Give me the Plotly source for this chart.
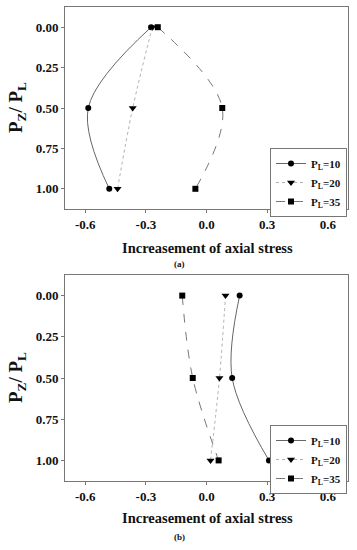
import plotly.graph_objects as go

y_levels = [0.0, 0.5, 1.0]
series_names = ["P<sub>L</sub>=10", "P<sub>L</sub>=20", "P<sub>L</sub>=35"]

# panel (a)
a_pl10 = [-0.274, -0.585, -0.481]
a_pl20 = [-0.268, -0.365, -0.440]
a_pl35 = [-0.241, 0.078, -0.055]

# panel (b)
b_pl10 = [0.164, 0.127, 0.309]
b_pl20 = [0.094, 0.064, 0.020]
b_pl35 = [-0.120, -0.068, 0.060]

x_ticks = [-0.6, -0.3, 0.0, 0.3, 0.6]
x_tick_labels = ["-0.6", "-0.3", "0.0", "0.3", "0.6"]
y_ticks = [0.0, 0.25, 0.5, 0.75, 1.0]
y_tick_labels = ["0.00", "0.25", "0.50", "0.75", "1.00"]

FONT = "Liberation Serif"
W, H = 357, 550

styles = [
    dict(line=dict(color="#666666", width=1, dash="solid"), marker=dict(symbol="circle", size=6, color="black")),
    dict(line=dict(color="#b0b0b0", width=1, dash="dot"), marker=dict(symbol="triangle-down", size=7, color="black")),
    dict(line=dict(color="#777777", width=1, dash="dash"), marker=dict(symbol="square", size=6, color="black")),
]

fig = go.Figure()

panels = [
    ([a_pl10, a_pl20, a_pl35], "x", "y", "legend"),
    ([b_pl10, b_pl20, b_pl35], "x2", "y2", "legend2"),
]
for data, xa, ya, lg in panels:
    for vals, name, st in zip(data, series_names, styles):
        fig.add_trace(go.Scatter(
            x=vals, y=y_levels, mode="lines+markers", name="<b>" + name + "</b>",
            line=dict(shape="spline", **st["line"]), marker=st["marker"],
            xaxis=xa, yaxis=ya, legend=lg,
        ))

xdom = [65 / W, 348 / W]
top_dom = [1 - 209 / H, 1 - 7 / H]
bot_dom = [1 - 481 / H, 1 - 275 / H]

bx = ["<b>" + t + "</b>" for t in x_tick_labels]
by = ["<b>" + t + "</b>" for t in y_tick_labels]

axis_common = dict(
    showline=True, mirror=True, linecolor="#777777", linewidth=1,
    ticks="outside", ticklen=3, tickcolor="#777777",
    showgrid=False, zeroline=False, automargin=False,
    tickfont=dict(family=FONT, size=13, color="#111111"),
)

legend_common = dict(
    xanchor="right", yanchor="top",
    bordercolor="#777777", borderwidth=1, bgcolor="white",
    font=dict(family=FONT, size=11, color="#111111"),
    tracegroupgap=0, itemwidth=30,
)

fig.update_layout(
    width=W, height=H,
    margin=dict(l=0, r=0, t=0, b=0, autoexpand=False),
    paper_bgcolor="white", plot_bgcolor="white",
    showlegend=True,
    xaxis=dict(domain=xdom, anchor="y", range=[-0.7, 0.7], tickvals=x_ticks, ticktext=bx, **axis_common),
    yaxis=dict(domain=top_dom, anchor="x", range=[1.125, -0.125], tickvals=y_ticks, ticktext=by, **axis_common),
    xaxis2=dict(domain=xdom, anchor="y2", range=[-0.7, 0.7], tickvals=x_ticks, ticktext=bx, **axis_common),
    yaxis2=dict(domain=bot_dom, anchor="x2", range=[1.125, -0.125], tickvals=y_ticks, ticktext=by, **axis_common),
    legend=dict(x=347 / W, y=1 - 148 / H, **legend_common),
    legend2=dict(x=347 / W, y=1 - 425 / H, **legend_common),
)

title_font = dict(family=FONT, size=14.5, color="#111111")
ytitle_font = dict(family=FONT, size=19, color="#111111")
small_font = dict(family=FONT, size=9, color="#111111")

annotations = [
    dict(text="<b>Increasement of axial stress</b>", x=207 / W, y=1 - 248 / H, font=title_font),
    dict(text="<b>(a)</b>", x=179 / W, y=1 - 264 / H, font=small_font),
    dict(text="<b>Increasement of axial stress</b>", x=207 / W, y=1 - 518 / H, font=title_font),
    dict(text="<b>(b)</b>", x=179 / W, y=1 - 537 / H, font=small_font),
    dict(text="<b>P<sub>Z</sub>/ P<sub>L</sub></b>", x=17 / W, y=1 - 108 / H, font=ytitle_font, textangle=-90),
    dict(text="<b>P<sub>Z</sub>/ P<sub>L</sub></b>", x=17 / W, y=1 - 378 / H, font=ytitle_font, textangle=-90),
]
for a in annotations:
    fig.add_annotation(xref="paper", yref="paper", showarrow=False, xanchor="center", yanchor="middle", **a)

fig.write_html(
    "out.html",
    config={"displayModeBar": False},
    post_script="document.body.style.margin='0';document.body.style.overflow='hidden';",
)
